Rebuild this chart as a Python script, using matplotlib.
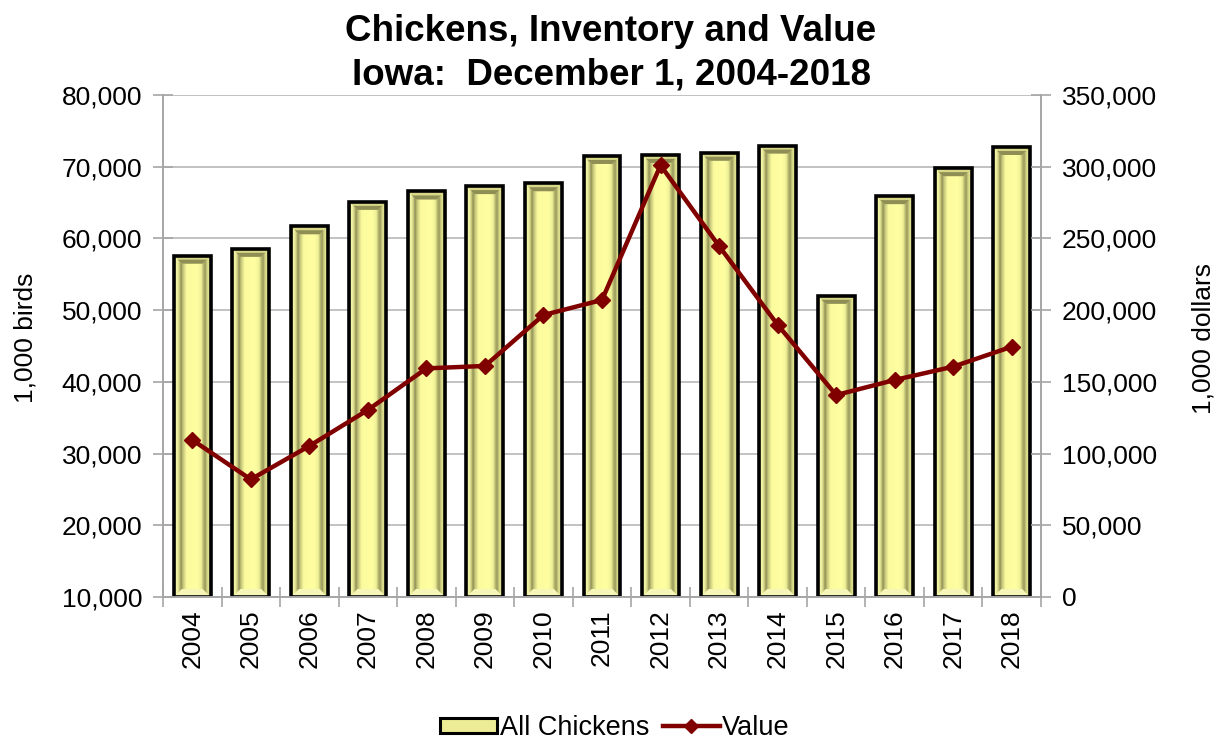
import matplotlib
matplotlib.use("Agg")
import matplotlib.pyplot as plt
import numpy as np
from matplotlib.colors import LinearSegmentedColormap
from matplotlib.patches import Polygon, Rectangle
from matplotlib.lines import Line2D
from matplotlib.ticker import FuncFormatter, MultipleLocator

plt.rcParams['font.family'] = ['Liberation Sans', 'DejaVu Sans']

years = ["2004", "2005", "2006", "2007", "2008", "2009", "2010", "2011",
         "2012", "2013", "2014", "2015", "2016", "2017", "2018"]
chickens = [57600, 58550, 61700, 65100, 66550, 67300, 67700, 71500,
            71650, 71950, 72950, 52000, 65900, 69800, 72750]
value = [109500, 82000, 105300, 130400, 159400, 161100, 196600, 207100,
         301000, 244700, 189800, 140800, 151300, 160600, 174500]

title_1 = "Chickens, Inventory and Value"
title_2 = "Iowa:  December 1, 2004-2018"

W, H = 1217, 740
fig = plt.figure(figsize=(W / 100, H / 100), dpi=100)
L, R, T, B = 163, 1041, 95, 597
ax = fig.add_axes([L / W, 1 - B / H, (R - L) / W, (B - T) / H])

ylo, yhi = 10000, 80000
x = np.arange(len(years))
ax.set_xlim(-0.5, len(years) - 0.5)
ax.set_ylim(ylo, yhi)

grey = '#a6a6a6'
fs = 19
ax.yaxis.set_major_locator(MultipleLocator(10000))
ax.grid(axis='y', color='#b8b8b8', linewidth=1.2, zorder=0)
ax.set_axisbelow(True)

bw = 0.63
bars = ax.bar(x, chickens, width=bw, color='#f3f394', edgecolor='none', zorder=2)

cmap = LinearSegmentedColormap.from_list('bev', [
    (0.00, '#e4e48e'), (0.08, '#f6f6aa'), (0.14, '#cfcf80'), (0.19, '#8e8e54'),
    (0.24, '#c4c47a'), (0.34, '#fbfb9e'), (0.62, '#ffffa2'), (0.74, '#f0f098'),
    (0.80, '#b4b46c'), (0.85, '#9a9a5c'), (0.90, '#d6d686'), (1.00, '#eeeea0')])
grad = np.linspace(0, 1, 128)[None, :]

px_x = 1.0 / ((R - L) / len(years))
px_y = (yhi - ylo) / (B - T)
dx, dy = 8 * px_x, 8 * px_y
for p in bars:
    x0 = p.get_x()
    x1 = x0 + p.get_width()
    top = p.get_y() + p.get_height()
    bot = ylo
    im = ax.imshow(grad, cmap=cmap, extent=[x0, x1, bot, top], aspect='auto',
                   zorder=2.1, interpolation='bilinear')
    im.set_clip_path(p)
    ax.add_patch(Polygon([(x0, top), (x1, top), (x1 - dx, top - dy), (x0 + dx, top - dy)],
                         closed=True, facecolor='#d8d888', edgecolor='none', zorder=2.2))
    ax.add_patch(Polygon([(x0 + dx * 0.5, top - dy * 0.5), (x1 - dx * 0.5, top - dy * 0.5),
                          (x1 - dx, top - dy), (x0 + dx, top - dy)],
                         closed=True, facecolor='#8e8e55', edgecolor='none', zorder=2.22))
    ax.add_patch(Polygon([(x0, bot), (x1, bot), (x1 - dx, bot + dy), (x0 + dx, bot + dy)],
                         closed=True, facecolor='#f6f6b8', edgecolor='none', zorder=2.2))
    ax.add_patch(Rectangle((x0, bot), x1 - x0, top - bot, facecolor='none',
                           edgecolor='black', linewidth=2.6, zorder=2.3))

ax.set_xlim(-0.5, len(years) - 0.5)
ax.set_ylim(ylo, yhi)

ax.set_xticks(x)
ax.set_xticklabels(years, rotation=90, fontsize=fs)
ax.set_xticks(np.arange(-0.5, len(years)), minor=True)
ax.tick_params(axis='x', which='major', length=0, pad=9)
ax.tick_params(axis='x', which='minor', length=14, direction='inout', color=grey, width=1.2)
ax.tick_params(axis='y', which='major', length=14, direction='inout', color=grey, width=1.2,
               labelsize=fs, pad=8)
ax.yaxis.set_major_formatter(FuncFormatter(lambda v, pos: f"{int(v):,}"))
for s in ax.spines.values():
    s.set_color(grey)
    s.set_linewidth(1.2)
ax.spines['top'].set_visible(False)

ax2 = ax.twinx()
ax2.set_ylim(0, 350000)
ax2.yaxis.set_major_locator(MultipleLocator(50000))
ax2.yaxis.set_major_formatter(FuncFormatter(lambda v, pos: f"{int(v):,}"))
ax2.tick_params(axis='y', which='major', length=14, direction='inout', color=grey, width=1.2,
                labelsize=fs, pad=8)
for s in ax2.spines.values():
    s.set_color(grey)
    s.set_linewidth(1.2)
ax2.spines['top'].set_visible(False)
ax2.plot(x, value, color='#800000', linewidth=3.2, marker='D', markersize=8,
         markerfacecolor='#800000', markeredgecolor='#800000', zorder=5)

fig.text(25 / W, 1 - 338 / H, "1,000 birds", rotation=90, ha='center', va='center', fontsize=fs)
fig.text(1204 / W, 1 - 338 / H, "1,000 dollars", rotation=90, ha='center', va='center', fontsize=fs)

fig.text(611 / W, 1 - 41 / H, title_1, ha='center', va='baseline', fontsize=26.5,
         fontweight='bold')
fig.text(611 / W, 1 - 85 / H, title_2, ha='center', va='baseline', fontsize=26.5,
         fontweight='bold')

h1 = Rectangle((0, 0), 1, 1, facecolor='#ecec96', edgecolor='black', linewidth=2.2)
h2 = Line2D([], [], color='#800000', linewidth=3.2, marker='D', markersize=7)
fig.legend([h1, h2], ["All Chickens", "Value"], loc='center', bbox_to_anchor=(615 / W, 1 - 728 / H),
           ncol=2, frameon=False, fontsize=19.5, handlelength=2.1, handleheight=0.5,
           handletextpad=0.1, columnspacing=0.5)

fig.savefig("out.png", dpi=100)
